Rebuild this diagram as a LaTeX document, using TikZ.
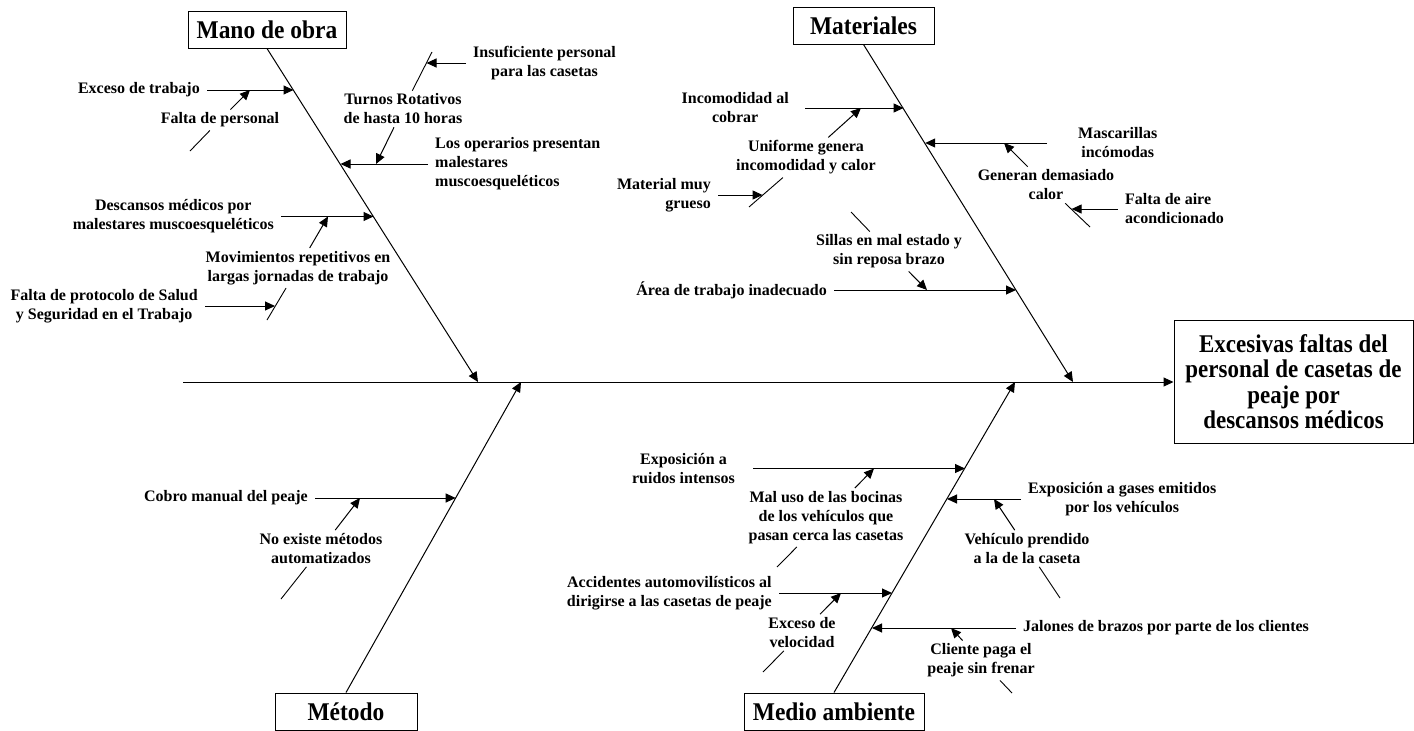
\documentclass[tikz,border=0pt]{standalone}
\usepackage{fontspec}
\setmainfont{Liberation Serif}
\newfontfamily\headfont[FakeStretch=0.92]{Liberation Serif}
\newfontfamily\efffont[FakeStretch=0.9]{Liberation Serif}
\usetikzlibrary{arrows.meta}
\newcommand{\tightlines}{\setlength{\lineskiplimit}{-30pt}}
\begin{document}
\begin{tikzpicture}[x=1pt,y=-1pt,
  lbl/.style={font=\tightlines\fontsize{16}{19}\selectfont\bfseries, inner xsep=7pt, inner ysep=2pt, align=center},
  mid/.style={lbl, inner sep=3pt},
  title/.style={draw, line width=1pt, font=\headfont\fontsize{25.5}{26}\selectfont\bfseries, minimum height=37pt, inner sep=0pt},
  arr/.style={line width=1pt, -{Triangle[length=10pt,width=9pt]}},
  subline/.style={line width=0.9pt},
]
\useasboundingbox (0,0) rectangle (1414,731);

% effect and spine
\node[draw, line width=1pt, minimum width=239pt, minimum height=123pt, inner sep=0pt, align=center,
      font=\tightlines\efffont\fontsize{25.5}{25.5}\selectfont\bfseries] (eff) at (1293.5,381.5)
      {Excesivas faltas del\\personal de casetas de\\peaje por\\descansos médicos};
\coordinate (sp0) at (183,382);
\draw[arr] (sp0) -- (eff.west |- sp0);

% ---------------- Mano de obra
\node[title, minimum width=158pt] (mobox) at (267,29.5) {Mano de obra};
\coordinate (motip) at (478,382);
\draw[arr] (mobox.south) -- (motip);

\node[lbl, anchor=east] (t_exc) at (207,90) {Exceso de trabajo};
\coordinate (mo1) at (293.5,90);
\draw[arr] (t_exc.east) -- (mo1);
\node[mid] (t_falta) at (220,120) {Falta de personal};
\coordinate (fa0) at (190,151);
\coordinate (fa1) at (250,90);
\draw[subline] (fa0) -- (t_falta);
\draw[arr] (t_falta) -- (fa1);

\node[lbl, align=left, anchor=west] (t_oper) at (428,164) {Los operarios presentan\\malestares\\muscoesqueléticos};
\coordinate (mo2) at (340.5,164);
\draw[arr] (t_oper.west) -- (mo2);
\node[mid] (t_turnos) at (403,109) {Turnos Rotativos\\de hasta 10 horas};
\coordinate (tu0) at (432,52);
\coordinate (tu1) at (376,164);
\draw[subline] (tu0) -- (t_turnos);
\draw[arr] (t_turnos) -- (tu1);
\node[lbl, anchor=west] (t_insuf) at (466,63) {Insuficiente personal\\para las casetas};
\coordinate (in1) at (426.5,63);
\draw[arr] (t_insuf.west) -- (in1);

\node[lbl, anchor=east] (t_desc) at (281,216.5) {Descansos médicos por\\malestares muscoesqueléticos};
\coordinate (mo3) at (373.5,216.5);
\draw[arr] (t_desc.east) -- (mo3);
\node[mid] (t_mov) at (298,268) {Movimientos repetitivos en\\largas jornadas de trabajo};
\coordinate (mv0) at (267,320);
\coordinate (mv1) at (328,216.5);
\draw[subline] (mv0) -- (t_mov);
\draw[arr] (t_mov) -- (mv1);
\node[lbl, anchor=east] (t_prot) at (205,306) {Falta de protocolo de Salud\\y Seguridad en el Trabajo};
\coordinate (pr1) at (275,306);
\draw[arr] (t_prot.east) -- (pr1);

% ---------------- Materiales
\node[title, minimum width=141pt] (mabox) at (863.5,25.5) {Materiales};
\coordinate (matip) at (1073,382);
\draw[arr] (mabox.south) -- (matip);

\node[lbl, anchor=east] (t_incom) at (796,108) {Incomodidad al\\cobrar};
\coordinate (ma1) at (903.6,108);
\draw[arr, shorten <=9pt] (t_incom.east) -- (ma1);
\node[mid] (t_unif) at (806,157.5) {Uniforme genera\\incomodidad y calor};
\coordinate (un0) at (749,207);
\coordinate (un1) at (861,108);
\draw[subline] (un0) -- (t_unif);
\draw[arr] (t_unif) -- (un1);
\node[lbl, align=right, anchor=east] (t_matmuy) at (718,195) {Material muy\\grueso};
\coordinate (mm1) at (762.6,195);
\draw[arr] (t_matmuy.east) -- (mm1);

\node[lbl, anchor=west] (t_masc) at (1071,143) {Mascarillas\\incómodas};
\coordinate (ma2) at (925.2,143);
\draw[arr, shorten <=24pt] (t_masc.west) -- (ma2);
\node[mid] (t_gen) at (1046,185) {Generan demasiado\\calor};
\coordinate (ge0) at (1090,227);
\coordinate (ge1) at (1004,143);
\draw[subline] (ge0) -- (t_gen);
\draw[arr] (t_gen) -- (ge1);
\node[lbl, align=left, anchor=west] (t_aire) at (1118,209) {Falta de aire\\acondicionado};
\coordinate (ai1) at (1071.6,209);
\draw[arr] (t_aire.west) -- (ai1);

\node[lbl, anchor=east] (t_area) at (834,290) {Área de trabajo inadecuado};
\coordinate (ma3) at (1016,290);
\draw[arr] (t_area.east) -- (ma3);
\node[mid] (t_sillas) at (889,251.5) {Sillas en mal estado y\\sin reposa brazo};
\coordinate (si0) at (851,212);
\coordinate (si1) at (927,290);
\draw[subline] (si0) -- (t_sillas);
\draw[arr] (t_sillas) -- (si1);

% ---------------- Método
\node[title, minimum width=142pt] (mebox) at (346,711.5) {Método};
\coordinate (metip) at (521,382);
\draw[arr] (mebox.north) -- (metip);

\node[lbl, anchor=east] (t_cobro) at (315,498) {Cobro manual del peaje};
\coordinate (me1) at (455.7,498);
\draw[arr] (t_cobro.east) -- (me1);
\node[mid] (t_noex) at (321,548.5) {No existe métodos\\automatizados};
\coordinate (ne0) at (281,599);
\coordinate (ne1) at (360,498);
\draw[subline] (ne0) -- (t_noex);
\draw[arr] (t_noex) -- (ne1);

% ---------------- Medio ambiente
\node[title, minimum width=180pt] (mambox) at (834,711.5) {Medio ambiente};
\coordinate (mamtip) at (1015,382);
\draw[arr] (mambox.north) -- (mamtip);

\node[lbl, anchor=east] (t_expr) at (742,468.5) {Exposición a\\ruidos intensos};
\coordinate (am1) at (965,468.5);
\draw[arr, shorten <=11pt] (t_expr.east) -- (am1);
\node[mid] (t_boc) at (826,517.5) {Mal uso de las bocinas\\de los vehículos que\\pasan cerca las casetas};
\coordinate (bo0) at (777,567);
\coordinate (bo1) at (874,468.5);
\draw[subline] (bo0) -- (t_boc);
\draw[arr] (t_boc) -- (bo1);

\node[lbl, anchor=west] (t_gases) at (1021,499) {Exposición a gases emitidos\\por los vehículos};
\coordinate (am2) at (947,499);
\draw[arr] (t_gases.west) -- (am2);
\node[mid] (t_veh) at (1027,548.5) {Vehículo prendido\\a la de la caseta};
\coordinate (ve0) at (1060,598);
\coordinate (ve1) at (994,499);
\draw[subline] (ve0) -- (t_veh);
\draw[arr] (t_veh) -- (ve1);

\node[lbl, anchor=east] (t_acc) at (779,593) {Accidentes automovilísticos al\\dirigirse a las casetas de peaje};
\coordinate (am3) at (892,593);
\draw[arr] (t_acc.east) -- (am3);
\node[mid] (t_vel) at (802,632.5) {Exceso de\\velocidad};
\coordinate (vl0) at (763,672);
\coordinate (vl1) at (841,593);
\draw[subline] (vl0) -- (t_vel);
\draw[arr] (t_vel) -- (vl1);

\node[lbl, anchor=west] (t_jal) at (1016,628) {Jalones de brazos por parte de los clientes};
\coordinate (am4) at (872,628);
\draw[arr] (t_jal.west) -- (am4);
\node[mid] (t_cli) at (981,660.5) {Cliente paga el\\peaje sin frenar};
\coordinate (cl0) at (1012,693);
\coordinate (cl1) at (951,628);
\draw[subline] (cl0) -- (t_cli);
\draw[arr] (t_cli) -- (cl1);
\end{tikzpicture}
\end{document}
